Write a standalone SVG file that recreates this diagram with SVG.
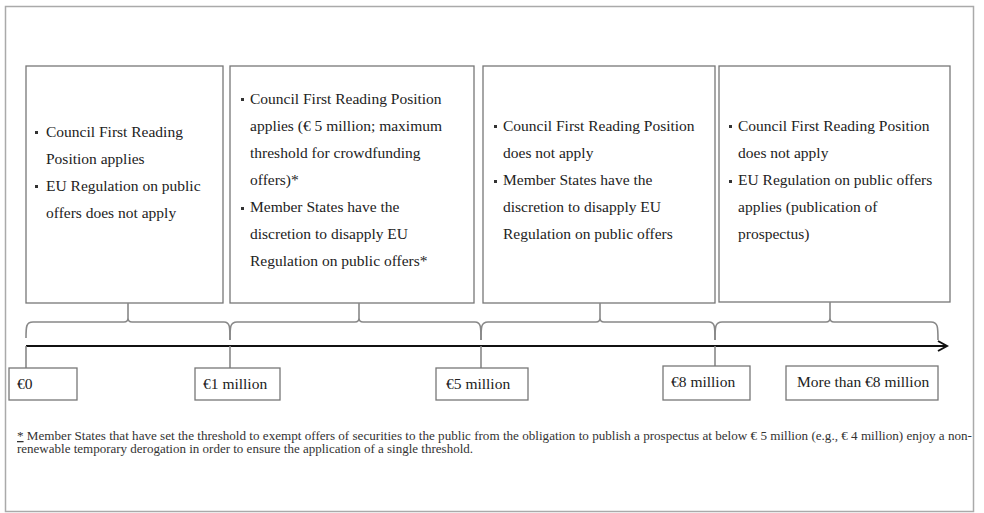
<svg xmlns="http://www.w3.org/2000/svg" width="984" height="513" viewBox="0 0 984 513">
<defs>
<style>
.box{fill:#fff;stroke:#777;stroke-width:1.3}
.t{font-family:"Liberation Serif","Times New Roman",serif;font-size:15.5px;fill:#222}
.lbl{font-family:"Liberation Serif","Times New Roman",serif;font-size:15.5px;fill:#222}
.fn{font-family:"Liberation Serif","Times New Roman",serif;font-size:12.8px;fill:#333}
.br{fill:none;stroke:#888;stroke-width:1.6}
.tick{stroke:#888;stroke-width:1.6}
.bul{fill:#333}
</style>
<marker id="ah" markerWidth="12" markerHeight="12" refX="10" refY="6" orient="auto" markerUnits="userSpaceOnUse">
<path d="M1,1 L10,6 L1,11" fill="none" stroke="#111" stroke-width="2"/>
</marker>
</defs>
<rect x="0" y="0" width="984" height="513" fill="#fff"/>
<rect x="5.5" y="6.5" width="968" height="505" fill="none" stroke="#aaa" stroke-width="1.5"/>

<g id="box1">
<rect class="box" x="26" y="66" width="197" height="237"/>
<rect class="bul" x="35" y="131" width="3" height="3"/>
<rect class="bul" x="35" y="185" width="3" height="3"/>
<text class="t" x="46" y="137">Council First Reading</text>
<text class="t" x="46" y="164">Position applies</text>
<text class="t" x="46" y="191">EU Regulation on public</text>
<text class="t" x="46" y="218">offers does not apply</text>
</g>

<g id="box2">
<rect class="box" x="230" y="66" width="244" height="237"/>
<rect class="bul" x="241" y="98" width="3" height="3"/>
<rect class="bul" x="241" y="207" width="3" height="3"/>
<text class="t" x="250" y="104">Council First Reading Position</text>
<text class="t" x="250" y="131">applies (€ 5 million; maximum</text>
<text class="t" x="250" y="158">threshold for crowdfunding</text>
<text class="t" x="250" y="185">offers)*</text>
<text class="t" x="250" y="212">Member States have the</text>
<text class="t" x="250" y="239">discretion to disapply EU</text>
<text class="t" x="250" y="266">Regulation on public offers*</text>
</g>

<g id="box3">
<rect class="box" x="483" y="66" width="232" height="237"/>
<rect class="bul" x="494" y="125" width="3" height="3"/>
<rect class="bul" x="494" y="180" width="3" height="3"/>
<text class="t" x="503" y="131">Council First Reading Position</text>
<text class="t" x="503" y="158">does not apply</text>
<text class="t" x="503" y="185">Member States have the</text>
<text class="t" x="503" y="212">discretion to disapply EU</text>
<text class="t" x="503" y="239">Regulation on public offers</text>
</g>

<g id="box4">
<rect class="box" x="719" y="66" width="231" height="236"/>
<rect class="bul" x="729" y="125" width="3" height="3"/>
<rect class="bul" x="729" y="180" width="3" height="3"/>
<text class="t" x="738" y="131">Council First Reading Position</text>
<text class="t" x="738" y="158">does not apply</text>
<text class="t" x="738" y="185">EU Regulation on public offers</text>
<text class="t" x="738" y="212">applies (publication of</text>
<text class="t" x="738" y="239">prospectus)</text>
</g>

<g id="connectors">
<path class="br" d="M26,338 C26,327 26,322 33,322 L124,322 Q128,322 128,318 L128,303 M128,318 Q128,322 132,322 L224,322 C230,322 230,327 230,340"/>
<path class="br" d="M230,340 C230,327 230,322 237,322 L355,322 Q359,322 359,318 L359,303 M359,318 Q359,322 363,322 L475,322 C481,322 481,327 481,340"/>
<path class="br" d="M481,340 C481,327 481,322 488,322 L596,322 Q600,322 600,318 L600,303 M600,318 Q600,322 604,322 L709,322 C715,322 715,327 715,340"/>
<path class="br" d="M715,340 C715,327 715,322 722,322 L826,322 Q830,322 830,318 L830,302 M830,318 Q830,322 834,322 L931,322 C938,322 938,327 938,340"/>
<line x1="26" y1="346" x2="947" y2="346" stroke="#111" stroke-width="2.2" marker-end="url(#ah)"/>
<line class="tick" x1="26" y1="346" x2="26" y2="368"/>
<line class="tick" x1="230" y1="346" x2="230" y2="368"/>
<line class="tick" x1="481" y1="346" x2="481" y2="368"/>
<line class="tick" x1="715" y1="346" x2="715" y2="366"/>
</g>

<g id="label0">
<rect class="box" x="9" y="368" width="68" height="32"/>
<text class="lbl" x="17" y="389">€0</text>
</g>
<g id="label1">
<rect class="box" x="195" y="368" width="85" height="32"/>
<text class="lbl" x="203" y="389">€1 million</text>
</g>
<g id="label5">
<rect class="box" x="436" y="368" width="92" height="32"/>
<text class="lbl" x="446" y="389">€5 million</text>
</g>
<g id="label8">
<rect class="box" x="663" y="366" width="87" height="34"/>
<text class="lbl" x="671" y="387">€8 million</text>
</g>
<g id="labelmore">
<rect class="box" x="786" y="366" width="152" height="34"/>
<text class="lbl" x="797" y="387">More than €8 million</text>
</g>

<g id="footnote">
<text class="fn" x="17" y="440" textLength="955" lengthAdjust="spacingAndGlyphs"><tspan text-decoration="underline">*</tspan> Member States that have set the threshold to exempt offers of securities to the public from the obligation to publish a prospectus at below € 5 million (e.g., € 4 million) enjoy a non-</text>
<text class="fn" x="17" y="453" textLength="456" lengthAdjust="spacingAndGlyphs">renewable temporary derogation in order to ensure the application of a single threshold.</text>
</g>
</svg>
